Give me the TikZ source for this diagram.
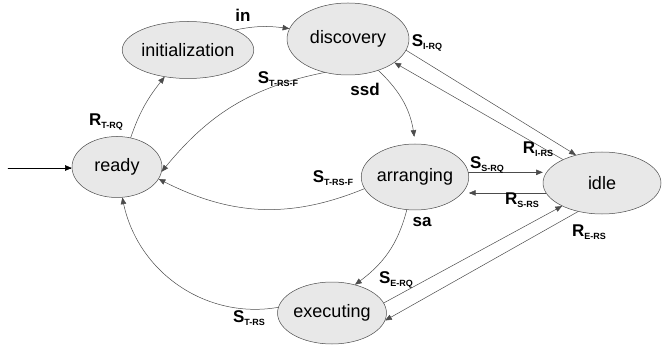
\documentclass[tikz,border=0pt]{standalone}
\usepackage{fontspec}
\setmainfont{Liberation Sans}
\usepackage{tikz}
\usetikzlibrary{arrows,shapes.geometric}
\definecolor{stategray}{rgb}{0.91,0.91,0.91}
\definecolor{linegray}{rgb}{0.3,0.3,0.3}
\newcommand{\trlab}[2]{#1\raisebox{-0.4ex}{\fontsize{9}{10}\selectfont #2}}

\tikzset{
	state/.style={ellipse,draw=linegray,fill=stategray,line width=0.5pt,inner sep=0pt,font=\fontsize{18}{20}\selectfont},
	trans/.style={font=\fontsize{17}{18}\selectfont\bfseries,inner sep=0pt},
	edge/.style={->,color=linegray,line width=0.5pt}
}

\begin{document}
\begin{tikzpicture}[line cap=round,line join=round,>=triangle 45,x=1pt,y=-1pt]
					\useasboundingbox (0,0) rectangle (668,347);
					
					\node[state,minimum width=90pt,minimum height=61pt] (ready) at (117,167) {ready};
					
					\node[state,minimum width=113pt,minimum height=57pt] (init) at (188,50) {initialization};
					
					\node[state,minimum width=122pt,minimum height=72pt] (disc) at (348,39) {discovery};
					
					\node[state,minimum width=102pt,minimum height=66pt] (arr) at (415,177) {arranging};
					
					\node[state,minimum width=118pt,minimum height=62pt] (idle) at (602,183) {idle};
					
					\node[state,minimum width=100pt,minimum height=62pt] (exec) at (332,313) {executing};
					
					\coordinate (start) at (8,168);
					
					\draw[->,color=black,line width=0.5pt] (start) -- (start -| ready.west);
					
					\draw[edge] (ready.65) to[bend left=10] (init.229);
					
					\draw[edge] (init.23) to[bend left=10] (disc.170);
					
					\draw[edge] (disc.235) to[bend right=20] (ready.-6);
					
					\draw[edge,shorten >=7pt] (disc.-46) to[bend left=20] (arr.90);
					
					\draw[edge] (disc.-11) -- (idle.133);
					
					\draw[edge] (idle.149) -- (disc.-27);
					
					\draw[edge] (arr.5) -- (arr.5 -| idle.west);
					
					\draw[edge] (idle.190) -- (idle.190 -| arr.east);
					
					\draw[edge] (arr.193) to[bend left=25] (ready.-16);
					
					\draw[edge] (arr.256) to[bend left=20] (exec.51);
					
					\draw[edge] (exec.11) -- (idle.210);
					
					\draw[edge] (idle.230) -- (exec.-8);
					
					\draw[edge] (exec.174) to[bend left=45] (ready.280);
					
					\node[trans] (l1) at (106,122) {\trlab{R}{T-RQ}};
					\node[trans] (l2) at (243,15) {in};
					\node[trans] (l3) at (278,79) {\trlab{S}{T-RS-F}};
					\node[trans] (l4) at (427,43) {\trlab{S}{I-RQ}};
					\node[trans] (l5) at (365,89) {ssd};
					\node[trans] (l6) at (538,149) {\trlab{R}{I-RS}};
					\node[trans] (l7) at (487,165) {\trlab{S}{S-RQ}};
					\node[trans] (l8) at (522,200) {\trlab{R}{S-RS}};
					\node[trans] (l9) at (333,178) {\trlab{S}{T-RS-F}};
					\node[trans] (l10) at (422,222) {sa};
					\node[trans] (l11) at (396,280) {\trlab{S}{E-RQ}};
					\node[trans] (l12) at (589,232) {\trlab{R}{E-RS}};
					\node[trans] (l13) at (249,318) {\trlab{S}{T-RS}};
				\end{tikzpicture}
\end{document}
